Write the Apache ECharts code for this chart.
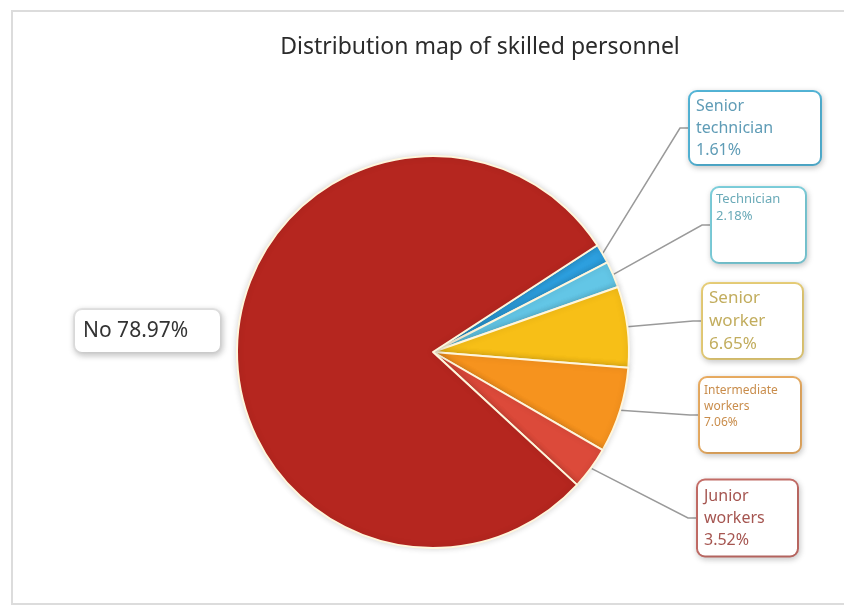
<!DOCTYPE html>
<html>
<head>
<meta charset="utf-8">
<title>Distribution map of skilled personnel</title>
<script src="https://cdn.jsdelivr.net/npm/echarts@6/dist/echarts.min.js"></script>
<style>
  html, body { margin: 0; padding: 0; background: #ffffff; }
  #chart { width: 844px; height: 608px; }
</style>
</head>
<body>
<div id="chart"></div>
<script>
// Skill levels, listed clockwise from the top-right of the pie
const categories = ['Senior technician', 'Technician', 'Senior worker', 'Intermediate workers', 'Junior workers', 'No'];
// Share of personnel at each level (%)
const shares = [1.61, 2.18, 6.65, 7.06, 3.52, 78.97];
// Label text lines for each level
const labelNames = ['Senior\ntechnician', 'Technician', 'Senior\nworker', 'Intermediate\nworkers', 'Junior\nworkers', 'No'];

const sliceColors = ['#2d9fde', '#63c6e6', '#f7bf17', '#f6931e', '#dc4a3a', '#b5261f'];
const borderColors = ['#55b9dc', '#7fd3e0', '#ecd27a', '#eeb064', '#c9706a', '#e6e6e6'];
const textColors = ['#5f9cb6', '#6aaab8', '#c2ad5e', '#c98d4c', '#a55550', '#333333'];
const fontSizes = [16, 13, 17, 12, 16, 21];
const lineHeights = [22, 17, 23, 16, 22, 26];
const boxWidths = [118, 83, 87, 90, 87, 131];
// blank lines kept under the text so it sits at the top of taller boxes
const blankLines = [0, 2, 0, 1, 0, 0];
// padding inside each callout box: top, right, bottom, left
const boxPadding = [[2, 6, 4, 6], [3, 6, 3, 4], [2, 6, 3, 6], [4, 6, 6, 4], [4, 6, 5, 6], [8, 6, 8, 8]];
// vertical centres and left edges of the callouts
const calloutY = [128, 225, 321, 415, 518, 331];
const calloutX = [690, 712, 703, 700, 698, 75];

const chart = echarts.init(document.getElementById('chart'), null, { renderer: 'canvas' });

const data = categories.map((name, i) => {
  const isMain = i === categories.length - 1;
  let text = labelNames[i] + (isMain ? ' ' : '\n') + shares[i].toFixed(2) + '%';
  for (let k = 0; k < blankLines[i]; k++) text += '\n ';
  return {
    name: name,
    value: shares[i],
    itemStyle: { color: sliceColors[i] },
    label: {
      formatter: text,
      color: textColors[i],
      fontSize: fontSizes[i],
      lineHeight: lineHeights[i],
      backgroundColor: '#ffffff',
      borderColor: borderColors[i],
      borderWidth: 2,
      borderRadius: 7,
      width: boxWidths[i],
      padding: boxPadding[i],
      shadowColor: 'rgba(0,0,0,0.18)',
      shadowBlur: 6,
      shadowOffsetX: 1,
      shadowOffsetY: 2
    },
    labelLine: { show: !isMain }
  };
});

chart.setOption({
  backgroundColor: '#ffffff',
  animation: false,
  title: {
    text: 'Distribution map of skilled personnel',
    left: 475,
    textAlign: 'center',
    top: 31,
    textStyle: {
      fontFamily: 'Noto Sans',
      fontWeight: 'normal',
      fontSize: 23,
      color: '#2b2b2b'
    }
  },
  graphic: [{
    type: 'rect',
    shape: { x: 12, y: 11, width: 850, height: 593 },
    style: { fill: 'none', stroke: '#dcdcdc', lineWidth: 2 },
    silent: true,
    z: -1
  }],
  series: [{
    type: 'pie',
    center: [433, 352],
    radius: [0, 196],
    startAngle: 33,
    clockwise: true,
    data: data,
    itemStyle: {
      borderColor: '#fff6dc',
      borderWidth: 2,
      shadowColor: 'rgba(0,0,0,0.15)',
      shadowBlur: 6
    },
    label: {
      show: true,
      fontFamily: 'Noto Sans',
      position: 'outside'
    },
    labelLine: {
      show: true,
      length: 12,
      length2: 8,
      lineStyle: { color: '#9a9a9a', width: 1.5 }
    },
    labelLayout: function (params) {
      const i = params.dataIndex;
      return { x: calloutX[i], y: calloutY[i], align: 'left', verticalAlign: 'middle' };
    }
  }]
});
</script>
</body>
</html>
